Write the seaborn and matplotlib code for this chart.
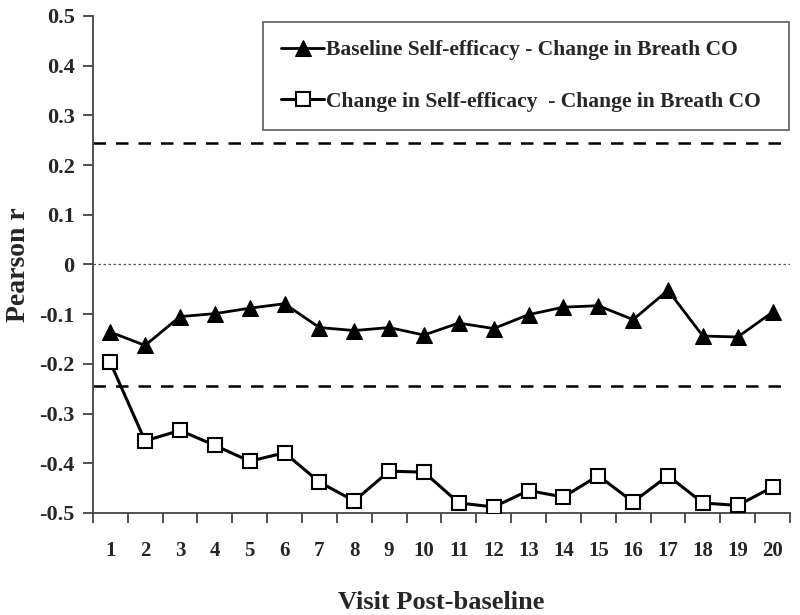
import matplotlib
matplotlib.use("Agg")
import matplotlib.pyplot as plt
import seaborn as sns
import numpy as np
import pandas as pd

visits = list(range(1, 21))
baseline_se = [-0.136, -0.163, -0.105, -0.099, -0.088, -0.079, -0.127, -0.133, -0.127, -0.142,
               -0.118, -0.129, -0.101, -0.086, -0.083, -0.111, -0.052, -0.144, -0.146, -0.096]
change_se = [-0.197, -0.355, -0.334, -0.364, -0.396, -0.379, -0.438, -0.476, -0.416, -0.418,
             -0.480, -0.488, -0.455, -0.468, -0.425, -0.478, -0.425, -0.480, -0.485, -0.448]
label_a = "Baseline Self-efficacy - Change in Breath CO"
label_b = "Change in Self-efficacy  - Change in Breath CO"
sig_level = 0.244
yticks = [0.5, 0.4, 0.3, 0.2, 0.1, 0, -0.1, -0.2, -0.3, -0.4, -0.5]
ytick_labels = ["0.5", "0.4", "0.3", "0.2", "0.1", "0", "-0.1", "-0.2", "-0.3", "-0.4", "-0.5"]

sns.set_theme(style="white")
plt.rcParams['font.family'] = ['Liberation Serif', 'DejaVu Serif']
plt.rcParams['font.weight'] = 'bold'

df_a = pd.DataFrame({"visit": visits, "r": baseline_se})
df_b = pd.DataFrame({"visit": visits, "r": change_se})

fig = plt.figure(figsize=(8.0, 6.15), dpi=100)
ax = fig.add_axes([0.116, 0.166, 0.8715, 0.808])

ax.axhline(sig_level, color='black', lw=1.8, ls=(0, (5, 4)), zorder=1)
ax.axhline(-sig_level, color='black', lw=1.8, ls=(0, (5, 4)), zorder=1)
ax.axhline(0, color='#555555', lw=0.9, ls=(0, (2, 2)), zorder=1)

sns.lineplot(data=df_a, x="visit", y="r", ax=ax, color='black', lw=2,
             marker='^', markersize=11, markerfacecolor='black', markeredgecolor='black',
             label=label_a, zorder=3)
sns.lineplot(data=df_b, x="visit", y="r", ax=ax, color='black', lw=2.2,
             marker='s', markersize=10, markerfacecolor='white', markeredgecolor='black',
             markeredgewidth=1.5, label=label_b, zorder=3)

ax.set_xlim(0.5, 20.5)
ax.set_ylim(-0.5, 0.5)
ax.set_xticks(np.arange(0.5, 21, 1))
ax.set_xticklabels([])
ax.set_xticks(visits, minor=True)
ax.set_xticklabels([str(v) for v in visits], minor=True, fontsize=15, fontweight='bold')
ax.tick_params(axis='x', which='major', direction='out', length=7, width=1.2, color='#333333', bottom=True)
ax.tick_params(axis='x', which='minor', length=0, pad=20)
ax.set_yticks(yticks)
ax.set_yticklabels(ytick_labels, fontsize=16, fontweight='bold')
ax.tick_params(axis='y', direction='out', length=7, width=1.2, color='#333333', left=True, pad=6)

for s in ['top', 'right']:
    ax.spines[s].set_visible(False)
for s in ['left', 'bottom']:
    ax.spines[s].set_color('#444444')
    ax.spines[s].set_linewidth(1.3)

ax.set_xlabel("Visit Post-baseline", fontsize=19, fontweight='bold', labelpad=22)
ax.set_ylabel("Pearson r", fontsize=20, fontweight='bold', labelpad=6)

leg = ax.legend(loc='upper left', bbox_to_anchor=(0.244, 0.77, 0.755, 0.218), mode='expand',
                frameon=True, fancybox=False, fontsize=15.5, handlelength=2.0, handletextpad=0.1,
                labelspacing=1.45, borderpad=0.85, borderaxespad=0)
leg.get_frame().set_edgecolor('#333333')
leg.get_frame().set_linewidth(1.2)
for t in leg.get_texts():
    t.set_fontweight('bold')

fig.savefig("out.png", dpi=100)
